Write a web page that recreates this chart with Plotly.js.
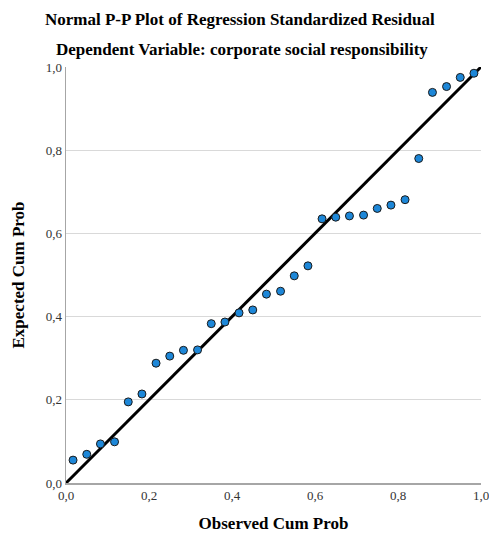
<!DOCTYPE html>
<html>
<head>
<meta charset="utf-8">
<script src="https://cdn.plot.ly/plotly-3.0.1.min.js"></script>
<style>html,body{margin:0;padding:0;background:#fff;}#chart{width:489px;height:533px;}</style>
</head>
<body>
<div id="chart"></div>
<script>
// Observed cumulative probabilities (x) and expected cumulative probabilities (y)
const observedCumProb = [0.017, 0.050, 0.083, 0.117, 0.150, 0.183, 0.217, 0.250, 0.283, 0.317,
                         0.350, 0.383, 0.417, 0.450, 0.483, 0.517, 0.550, 0.583, 0.617, 0.650,
                         0.683, 0.717, 0.750, 0.783, 0.817, 0.850, 0.883, 0.917, 0.950, 0.983];
const expectedCumProb = [0.055, 0.069, 0.094, 0.099, 0.195, 0.214, 0.288, 0.305, 0.319, 0.320,
                         0.383, 0.387, 0.409, 0.416, 0.454, 0.461, 0.498, 0.522, 0.635, 0.639,
                         0.642, 0.644, 0.660, 0.668, 0.681, 0.780, 0.939, 0.953, 0.975, 0.985];
const refLineX = [0, 1];
const refLineY = [0, 1];
const tickVals = [0, 0.2, 0.4, 0.6, 0.8, 1.0];
const tickText = ["0,0", "0,2", "0,4", "0,6", "0,8", "1,0"];
const titleLine1 = "Normal P-P Plot of Regression Standardized Residual";
const titleLine2 = "Dependent Variable: corporate social responsibility";
const xTitle = "Observed Cum Prob";
const yTitle = "Expected Cum Prob";

const serif = "Liberation Serif, Times New Roman, serif";

const traces = [
  {
    x: refLineX, y: refLineY, type: "scatter", mode: "lines",
    line: {color: "#000000", width: 3}, hoverinfo: "skip", showlegend: false, cliponaxis: false
  },
  {
    x: observedCumProb, y: expectedCumProb, type: "scatter", mode: "markers",
    marker: {size: 8, color: "#1d87d8", line: {color: "#1a1a1a", width: 1}},
    showlegend: false, cliponaxis: false
  }
];

const axisCommon = {
  range: [0, 1], tickvals: tickVals, ticktext: tickText,
  tickfont: {family: serif, size: 13, color: "#333333"},
  showline: true, linecolor: "#a6a6a6", linewidth: 1.5,
  ticks: "", ticklabeloverflow: "allow",
  zeroline: false, fixedrange: true
};

const layout = {
  width: 489, height: 533,
  margin: {l: 66, r: 8, t: 67, b: 50},
  paper_bgcolor: "#ffffff", plot_bgcolor: "#ffffff",
  showlegend: false,
  xaxis: Object.assign({}, axisCommon, {
    showgrid: false,
    title: {text: "<b>" + xTitle + "</b>", font: {family: serif, size: 17, color: "#000"}, standoff: 16}
  }),
  yaxis: Object.assign({}, axisCommon, {
    showgrid: true, gridcolor: "#d9d9d9", gridwidth: 1,
    title: {text: "<b>" + yTitle + "</b>", font: {family: serif, size: 17, color: "#000"}, standoff: 16}
  }),
  annotations: [
    {text: "<b>" + titleLine1 + "</b>", xref: "paper", yref: "paper", x: 0.42, y: 1.113,
     xanchor: "center", yanchor: "middle", showarrow: false,
     font: {family: serif, size: 17, color: "#000"}},
    {text: "<b>" + titleLine2 + "</b>", xref: "paper", yref: "paper", x: 0.423, y: 1.041,
     xanchor: "center", yanchor: "middle", showarrow: false,
     font: {family: serif, size: 17, color: "#000"}}
  ]
};

Plotly.newPlot("chart", traces, layout, {displayModeBar: false, staticPlot: true});
</script>
</body>
</html>
